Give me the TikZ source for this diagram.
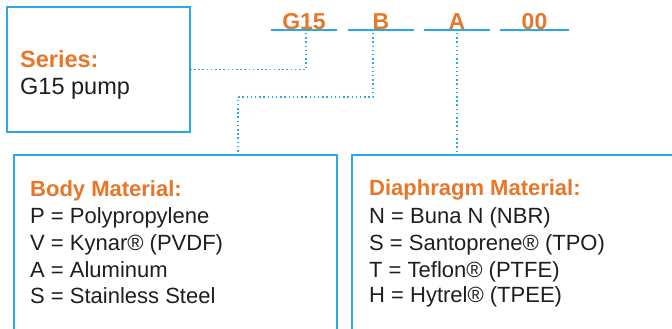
\documentclass[tikz,border=0pt]{standalone}
\usepackage{fontspec}
\setmainfont{Liberation Sans}
\definecolor{lineblue}{RGB}{41,170,226}
\definecolor{orng}{RGB}{232,118,40}
\definecolor{txt}{RGB}{30,30,30}
\begin{document}
\begin{tikzpicture}[x=1pt,y=-1pt,
  boxstyle/.style={draw=lineblue, line width=1.3pt, inner sep=0pt},
  dotline/.style={draw=lineblue, line width=1.5pt, dash pattern=on 1.5pt off 2.7pt},
  codestyle/.style={font=\fontsize{23}{23}\selectfont\bfseries, text=orng, inner sep=0pt, text depth=0pt, minimum width=66pt, anchor=south},
  headstyle/.style={font=\fontsize{22}{22}\selectfont\bfseries, text=orng, inner sep=0pt, anchor=base west},
  linestyle/.style={font=\fontsize{22}{22}\selectfont, text=txt, inner sep=0pt, anchor=base west}]
\useasboundingbox (0,0) rectangle (672,329);
\clip (0,0) rectangle (672,329);
% boxes
\node[boxstyle, minimum width=183pt, minimum height=125pt] (series) at (98.5,69.5) {};
\node[boxstyle, minimum width=323pt, minimum height=190pt] (body) at (175.5,250) {};
\node[boxstyle, minimum width=330pt, minimum height=190pt] (diaph) at (517,250) {};
% series text
\node[headstyle, font=\fontsize{23.5}{23.5}\selectfont\bfseries] (serh) at (20,68) {Series:};
\node[linestyle, font=\fontsize{23.5}{23.5}\selectfont] (serl) at (20,95) {G15 pump};
% codes
\node[codestyle] (g15) at (304,30) {G15};
\node[codestyle] (b) at (381,30) {B};
\node[codestyle] (a) at (457,30) {A};
\node[codestyle, minimum width=69pt] (oo) at (534.5,30) {00};
\foreach \n in {g15,b,a,oo}{
  \draw[lineblue, line width=1.2pt] (\n.south west) -- (\n.south east);
}
% connectors
\coordinate (gk) at (306,33);
\draw[dotline] (gk) |- (series.east);
\coordinate (bt) at (373,33);
\coordinate (bk) at (238,97);
\draw[dotline] (bt) |- (bk) -- (bk |- body.north);
\coordinate (at) at (457,33);
\draw[dotline] (at) -- (at |- diaph.north);
% body text
\node[headstyle] (bh) at (30,196) {Body Material:};
\node[linestyle] (b1) at (30,223) {P = Polypropylene};
\node[linestyle] (b2) at (30,250) {V = Kynar® (PVDF)};
\node[linestyle] (b3) at (30,277) {A = Aluminum};
\node[linestyle] (b4) at (30,303) {S = Stainless Steel};
% diaphragm text
\node[headstyle] (dh) at (369,195) {Diaphragm Material:};
\node[linestyle] (d1) at (369,223) {N = Buna N (NBR)};
\node[linestyle] (d2) at (369,250) {S = Santoprene® (TPO)};
\node[linestyle] (d3) at (369,277) {T = Teflon® (PTFE)};
\node[linestyle] (d4) at (369,302) {H = Hytrel® (TPEE)};
\end{tikzpicture}
\end{document}
